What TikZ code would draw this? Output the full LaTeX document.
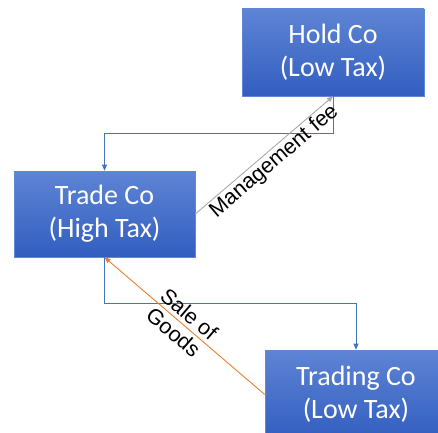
\documentclass[tikz,border=0pt]{standalone}
\usepackage{fontspec}
\setmainfont{Carlito}
\newfontfamily\labelfont{Liberation Sans}
\usetikzlibrary{arrows.meta}
\definecolor{boxtop}{RGB}{94,132,212}
\definecolor{boxbottom}{RGB}{50,94,192}
\definecolor{boxedge}{RGB}{96,136,214}
\definecolor{flowblue}{RGB}{68,114,196}
\definecolor{feegrey}{RGB}{170,170,170}
\definecolor{goodsorange}{RGB}{237,125,49}
\tikzset{
  company/.style={rectangle, draw=boxedge, line width=0.6pt,
    top color=boxtop, bottom color=boxbottom, text=white,
    minimum width=182pt, minimum height=87pt, align=center,
    font=\fontsize{28}{33}\selectfont, inner sep=0pt},
  ownership/.style={draw=flowblue, line width=0.9pt, -{Triangle[length=6pt,width=5pt]}},
  feeflow/.style={draw=feegrey, line width=0.9pt, -{Triangle[length=6pt,width=5pt]}},
  goodsflow/.style={draw=goodsorange, line width=0.9pt, -{Triangle[length=6pt,width=5pt]}},
  flowlabel/.style={font=\labelfont\fontsize{21.5}{24}\selectfont, text=black, align=center}
}
\begin{document}
\begin{tikzpicture}[x=1pt,y=1pt]
\useasboundingbox (0,0) rectangle (438,432);
\clip (0,0) rectangle (438,432);
\fill[white] (0,0) rectangle (438,432);
\node[company] (hold) at (333,379.5) {Hold Co\\(Low Tax)};
\node[company, minimum width=181pt, minimum height=86pt] (trade) at (104.5,218) {Trade Co\\(High Tax)};
\node[company, minimum height=89pt] (trading) at (356,37.5) {Trading Co\\(Low Tax)};
\coordinate (holdbend) at (333,299);
\coordinate (tradebend) at (104.5,129);
\draw[ownership] (hold.south) -- (holdbend) -| (trade.north);
\draw[ownership] (trade.south) -- (tradebend) -| (trading.north);
\draw[feeflow] (trade.east) -- node[flowlabel, sloped, below, pos=0.52, inner sep=1pt] {Management fee} (hold.south);
\draw[goodsflow] (trading.west) -- node[flowlabel, sloped, pos=0.52] {Sale of\\Goods} (trade.south);
\end{tikzpicture}
\end{document}
